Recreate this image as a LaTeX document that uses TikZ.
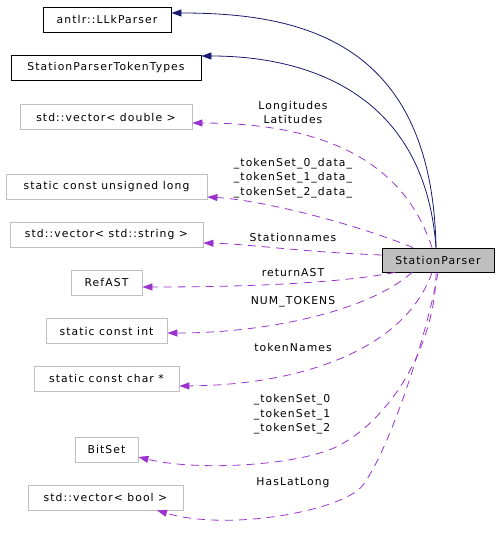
\documentclass[tikz,border=0pt]{standalone}
\usepackage{fontspec}
\setmainfont{DejaVu Sans}[LetterSpace=10]
\usetikzlibrary{arrows.meta}
\definecolor{inhblue}{HTML}{191970}
\definecolor{usepurple}{HTML}{9A32CD}
\definecolor{boxgray}{HTML}{BFBFBF}
\tikzset{
  cls/.style={draw=black, line width=0.8pt, inner sep=0pt, minimum height=25pt, font=\fontsize{10.8}{12}\selectfont},
  ext/.style={draw=boxgray, line width=0.8pt, inner sep=0pt, minimum height=25pt, font=\fontsize{10.8}{12}\selectfont},
  main/.style={draw=black, fill=boxgray, line width=0.8pt, inner sep=0pt, minimum height=24pt, font=\fontsize{10.8}{12}\selectfont},
  inh/.style={draw=inhblue, line width=0.8pt, -{Triangle[length=10pt,width=7pt]}},
  use/.style={draw=usepurple, line width=0.8pt, dash pattern=on 8pt off 6pt, -{Triangle[length=10pt,width=7pt,fill=usepurple]}},
  lbl/.style={inner sep=0pt, align=center, font=\fontsize{10.8}{14.5}\selectfont}
}
\begin{document}
\begin{tikzpicture}[x=1pt,y=-1pt]
\useasboundingbox (0,0) rectangle (499,535);
% nodes
\node[cls, minimum width=128pt] (llk) at (107,19.5) {antlr::LLkParser};
\node[cls, minimum width=190pt] (tt) at (106,67.5) {StationParserTokenTypes};
\node[ext, minimum width=172pt] (dbl) at (106,117) {std::vector< double >};
\node[ext, minimum width=201pt] (ul) at (106.5,187) {static const unsigned long};
\node[ext, minimum width=193pt] (str) at (106.5,234.5) {std::vector< std::string >};
\node[ext, minimum width=71pt] (ref) at (106.5,282.5) {RefAST};
\node[ext, minimum width=121pt] (int) at (106.5,331) {static const int};
\node[ext, minimum width=145pt] (chr) at (106.5,378.5) {static const char *};
\node[ext, minimum width=63pt] (bit) at (106.5,449.5) {BitSet};
\node[ext, minimum width=155pt] (bool) at (105.5,497.5) {std::vector< bool >};
\node[main, minimum width=112pt] (sp) at (438,260) {StationParser};
% inheritance
\draw[inh] ([xshift=-2pt]sp.north) .. controls (432,40) and (300,13) .. ([yshift=6.5pt]llk.east);
\draw[inh] ([xshift=-2pt]sp.north) .. controls (425,95) and (310,56) .. ([yshift=11.5pt]tt.east);
% usage
\draw[use] ([xshift=-6pt]sp.north) .. controls (405,165) and (330,123) .. ([yshift=-6pt]dbl.east);
\draw[use] ([xshift=-25pt]sp.north) .. controls (350,222) and (260,200) .. ([yshift=-10pt]ul.east);
\draw[use] ([yshift=5pt]sp.west) .. controls (300,252) and (250,244) .. ([yshift=-8.5pt]str.east);
\draw[use] ([xshift=-43pt]sp.south) .. controls (340,283) and (250,287) .. ([yshift=-4.5pt]ref.east);
\draw[use] ([xshift=-26pt]sp.south) .. controls (370,310) and (270,333) .. ([yshift=-2pt]int.east);
\draw[use] ([xshift=-6pt]sp.south) .. controls (405,350) and (300,385) .. ([yshift=-7.5pt]chr.east);
\draw[use] ([xshift=-2pt]sp.south) .. controls (436,340) and (395,415) .. (340,445)
   .. controls (304,465) and (200,472) .. ([yshift=-7.5pt]bit.east);
\draw[use] (sp.south) .. controls (428,330) and (392,445) .. (363,485)
   .. controls (345,510) and (230,532) .. ([xshift=51.5pt]bool.south);
% labels
\node[lbl] (l1) at (293,112.5) {Longitudes\\Latitudes};
\node[lbl] (l2) at (293,178) {\_tokenSet\_0\_data\_\\\_tokenSet\_1\_data\_\\\_tokenSet\_2\_data\_};
\node[lbl] (l3) at (293,237) {Stationnames};
\node[lbl] (l4) at (293,273) {returnAST};
\node[lbl] (l5) at (293,302) {NUM\_TOKENS};
\node[lbl] (l6) at (293,347) {tokenNames};
\node[lbl] (l7) at (292,414.5) {\_tokenSet\_0\\\_tokenSet\_1\\\_tokenSet\_2};
\node[lbl] (l8) at (293,483) {HasLatLong};
\end{tikzpicture}
\end{document}
